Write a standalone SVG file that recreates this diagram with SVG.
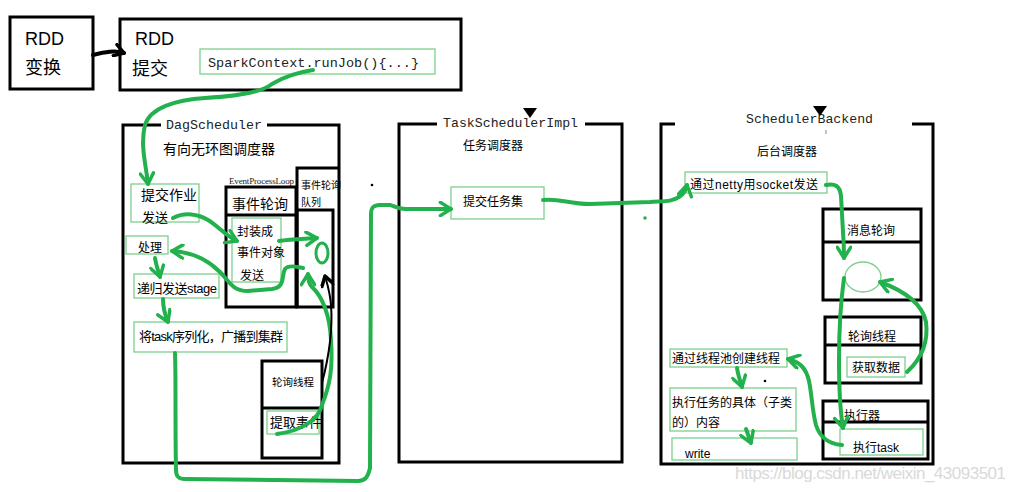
<svg xmlns="http://www.w3.org/2000/svg" width="1015" height="492" viewBox="0 0 1015 492">
<style>
.bx{fill:none;stroke:#000;stroke-width:3}
.gb{fill:none;stroke:#7ccf8c;stroke-width:1.3}
.gp{fill:none;stroke:#22b14c;stroke-width:4;stroke-linecap:round;stroke-linejoin:round}
.t{font-family:"Liberation Sans","Noto Sans CJK SC",sans-serif;fill:#000}
.m{font-family:"Liberation Mono","Noto Sans CJK SC",monospace;fill:#222}
.wm{font-family:"Liberation Sans",sans-serif;fill:#d9d9d9}
</style>
<defs>
<marker id="ga" viewBox="0 0 12 12" refX="10" refY="6" markerWidth="16" markerHeight="16" markerUnits="userSpaceOnUse" orient="auto">
<path d="M2,1 L10,6 L2,11" fill="none" stroke="#22b14c" stroke-width="2.6" stroke-linecap="round" stroke-linejoin="round"/>
</marker>
<marker id="ba" viewBox="0 0 12 12" refX="10" refY="6" markerWidth="14" markerHeight="14" markerUnits="userSpaceOnUse" orient="auto">
<path d="M2,1 L10,6 L2,11" fill="none" stroke="#000" stroke-width="3" stroke-linecap="round" stroke-linejoin="round"/>
</marker>
</defs>
<rect width="1015" height="492" fill="#fff"/>

<g id="rdd-transform">
<rect class="bx" x="10" y="17" width="83" height="72"/>
<text class="t" x="25" y="45" font-size="18">RDD</text>
<text class="t" x="25" y="74" font-size="18">变换</text>
</g>

<g id="rdd-submit">
<rect class="bx" x="120" y="19" width="341" height="71"/>
<text class="t" x="135" y="45" font-size="18">RDD</text>
<text class="t" x="132" y="75" font-size="18">提交</text>
<rect class="gb" x="200" y="49" width="235" height="25"/>
<text class="m" x="208" y="67" font-size="13.5" textLength="211">SparkContext.runJob(){...}</text>
</g>

<g id="dag-scheduler">
<rect class="bx" x="123" y="125" width="216" height="338"/>
<rect x="161" y="118" width="106" height="14" fill="#fff"/>
<text class="m" x="166" y="129" font-size="13.3" textLength="96">DagScheduler</text>
<text class="t" x="163" y="154" font-size="14">有向无环图调度器</text>
</g>
<g id="submit-job">
<rect class="gb" x="131" y="184" width="68" height="38"/>
<text class="t" x="141" y="200" font-size="14">提交作业</text>
<text class="t" x="142" y="222" font-size="13">发送</text>
</g>
<g id="handle">
<rect class="gb" x="126" y="236" width="42" height="18"/>
<text class="t" x="138" y="252" font-size="12">处理</text>
</g>
<g id="recursive-stage">
<rect class="gb" x="134" y="274" width="85" height="24"/>
<text class="t" x="137" y="293" font-size="13" textLength="80">递归发送stage</text>
</g>
<g id="serialize">
<rect class="gb" x="134" y="322" width="153" height="30"/>
<text class="t" x="139" y="341" font-size="13" textLength="144">将task序列化，广播到集群</text>
</g>
<g id="event-loop">
<text x="229" y="184" font-family="Liberation Serif" font-size="9" textLength="65" fill="#222">EventProcessLoop</text>
<rect class="bx" x="226" y="187" width="70" height="120"/>
<line class="bx" x1="226" y1="215" x2="296" y2="215"/>
<text class="t" x="232" y="209" font-size="14">事件轮询</text>
<rect class="gb" x="232" y="218" width="49" height="64"/>
<text class="t" x="237" y="236" font-size="12">封装成</text>
<text class="t" x="237" y="257" font-size="12">事件对象</text>
<text class="t" x="240" y="280" font-size="12">发送</text>
</g>
<g id="event-queue">
<path class="bx" d="M297,307 V168 H338"/>
<text class="t" x="301" y="189" font-size="10">事件轮询</text>
<text class="t" x="301" y="206" font-size="10">队列</text>
<rect class="bx" x="297" y="210" width="36" height="97"/>
<ellipse cx="322" cy="253" rx="6" ry="10" fill="none" stroke="#22b14c" stroke-width="3"/>
</g>
<g id="poll-thread">
<rect class="bx" x="262" y="361" width="60" height="97"/>
<line class="bx" x1="262" y1="408" x2="322" y2="408"/>
<text class="t" x="272" y="386" font-size="10.5">轮询线程</text>
<rect class="gb" x="267" y="411" width="52" height="23"/>
<text class="t" x="270" y="427" font-size="13">提取事件</text>
</g>

<g id="task-scheduler">
<rect class="bx" x="399" y="124" width="223" height="338"/>
<rect x="437" y="116" width="148" height="14" fill="#fff"/>
<text class="m" x="443" y="127" font-size="13.2" textLength="135">TaskSchedulerImpl</text>
<path d="M523,108 L537,108 L530,118 Z" fill="#000"/>
<text class="t" x="463" y="150" font-size="12">任务调度器</text>
</g>
<g id="submit-taskset">
<rect class="gb" x="451" y="187" width="93" height="32"/>
<text class="t" x="463" y="206" font-size="12">提交任务集</text>
</g>

<g id="scheduler-backend">
<rect class="bx" x="661" y="124" width="272" height="340"/>
<rect x="675" y="110" width="237" height="20" fill="#fff"/>
<text class="m" x="746" y="123" font-size="13.2" textLength="127">SchedulerBackend</text>
<path d="M813,106 L827,106 L820,116 Z" fill="#000"/>
<line x1="826" y1="130" x2="826" y2="134" stroke="#888" stroke-width="1"/>
<text class="t" x="757" y="156" font-size="12">后台调度器</text>
</g>
<g id="netty-send">
<rect class="gb" x="685" y="172" width="142" height="21"/>
<text class="t" x="690" y="189" font-size="12" textLength="128">通过netty用socket发送</text>
</g>
<g id="msg-poll">
<rect class="bx" x="823" y="209" width="98" height="91"/>
<line class="bx" x1="823" y1="242" x2="921" y2="242"/>
<text class="t" x="847" y="235" font-size="12">消息轮询</text>
<ellipse cx="863" cy="277" rx="18" ry="15" fill="none" stroke="#7ccf8c" stroke-width="1.3"/>
</g>
<g id="poll-thread-2">
<rect class="bx" x="825" y="317" width="96" height="66"/>
<line class="bx" x1="825" y1="345" x2="921" y2="345"/>
<text class="t" x="848" y="341" font-size="12">轮询线程</text>
<rect class="gb" x="847" y="357" width="58" height="20"/>
<text class="t" x="852" y="372" font-size="12">获取数据</text>
</g>
<g id="executor">
<rect class="bx" x="823" y="401" width="105" height="58"/>
<line class="bx" x1="823" y1="422" x2="928" y2="422"/>
<text class="t" x="844" y="420" font-size="12">执行器</text>
<rect class="gb" x="840" y="429" width="83" height="26"/>
<text class="t" x="853" y="452" font-size="12">执行task</text>
</g>
<g id="thread-pool">
<rect class="gb" x="670" y="349" width="117" height="18"/>
<text class="t" x="672" y="363" font-size="12">通过线程池创建线程</text>
</g>
<g id="run-task-body">
<rect class="gb" x="670" y="388" width="126" height="43"/>
<text class="t" x="672" y="407" font-size="12">执行任务的具体（子类</text>
<text class="t" x="672" y="427" font-size="12">的）内容</text>
</g>
<g id="write">
<rect class="gb" x="672" y="438" width="125" height="22"/>
<text class="t" x="685" y="458" font-size="12">write</text>
</g>

<g id="connectors">
<path d="M93,55 C105,52 115,50 124,53" fill="none" stroke="#000" stroke-width="4" stroke-linecap="round" marker-end="url(#ba)"/>
<path class="gp" marker-end="url(#ga)" d="M313,70 C300,72 285,76 272,84 C262,92 240,96 205,98 C175,100 150,108 145,125 C140,145 146,165 148,184"/>
<path class="gp" marker-end="url(#ga)" d="M173,218 C185,212 198,214 208,220 C218,226 226,236 237,241"/>
<path class="gp" marker-end="url(#ga)" d="M279,241 C292,239 303,239 317,238"/>
<path class="gp" marker-end="url(#ga)" d="M303,268 C295,266 288,265 285,269 C281,276 286,287 272,289 L248,291 C232,291 229,281 220,272 C207,259 192,252 172,251"/>
<path class="gp" marker-end="url(#ga)" d="M155,258 C156,265 158,270 160,277"/>
<path class="gp" marker-end="url(#ga)" d="M163,299 C163,308 165,315 168,322"/>
<path class="gp" marker-end="url(#ga)" d="M277,434 C300,431 318,421 322,405 C330,385 333,368 331,340 C330,315 322,296 312,287 C309,284 308,279 308,274"/>
<path d="M322,383 C328,360 333,330 331,305 C330,292 327,283 325,276" fill="none" stroke="#000" stroke-width="2" marker-end="url(#ba)"/>
<path class="gp" marker-end="url(#ga)" d="M175,353 C176,380 175,420 176,470 C176,476 178,479 185,479 L358,481 C365,481 368,477 370,468 L371,214 C371,208 373,205 380,205 L390,205 C395,206 397,209 405,209 L451,209"/>
<path class="gp" marker-end="url(#ga)" d="M543,200 C560,198 568,204 590,204 L650,202 C665,201 671,202 679,197 C684,194 686,190 687,185"/>
<path class="gp" marker-end="url(#ga)" d="M826,185 C835,183 840,186 841,196 L843,232 C844,245 844,252 844,258"/>
<path class="gp" marker-end="url(#ga)" d="M844,278 C841,300 839,330 839,360 C839,390 840,410 843,428"/>
<path class="gp" marker-end="url(#ga)" d="M907,372 C920,360 929,345 926,322 C922,302 902,290 880,282"/>
<path class="gp" marker-end="url(#ga)" d="M842,445 C830,444 820,438 816,425 C812,410 812,395 809,381 C806,368 800,362 788,359"/>
<path class="gp" marker-end="url(#ga)" d="M737,368 C738,375 740,380 742,387"/>
<path class="gp" marker-end="url(#ga)" d="M746,429 C748,434 749,438 751,443"/>
</g>
<circle cx="372" cy="185" r="1.3" fill="#000"/>
<circle cx="645" cy="218" r="1.8" fill="#22b14c"/>
<circle cx="765" cy="381" r="1.3" fill="#000"/>
<text class="wm" x="735" y="479" font-size="17" textLength="271">https://blog.csdn.net/weixin_43093501</text>
</svg>
